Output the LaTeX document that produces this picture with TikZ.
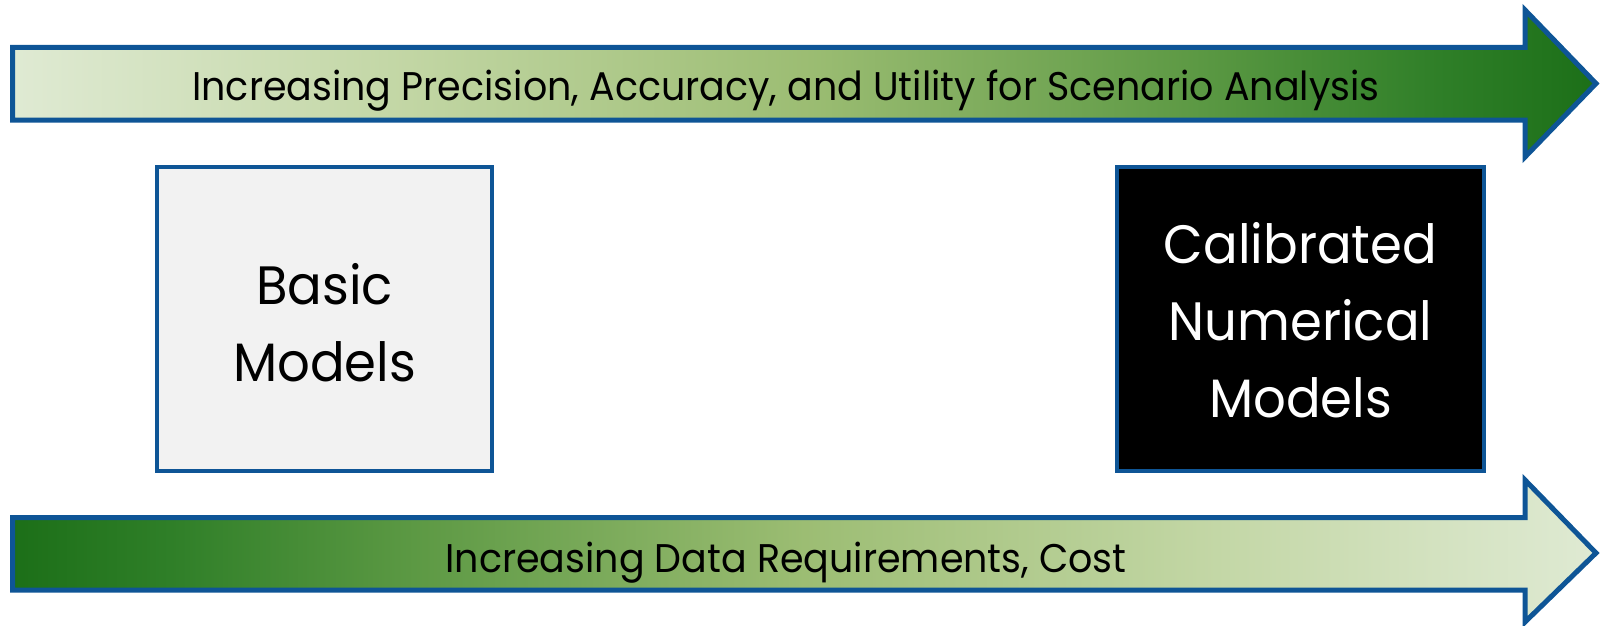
\documentclass[tikz,border=0pt]{standalone}
\usepackage{fontspec}
\setmainfont[FakeStretch=0.95]{Poppins}
\definecolor{edgeblue}{HTML}{0E5596}
\definecolor{boxgray}{HTML}{F2F2F2}
\definecolor{gA}{HTML}{DFEAD3}
\definecolor{gB}{HTML}{C2D6A4}
\definecolor{gC}{HTML}{9CBD73}
\definecolor{gD}{HTML}{5E9A45}
\definecolor{gE}{HTML}{2F7F28}
\definecolor{gF}{HTML}{1C6F18}
% light-to-dark green ramp (path spans 25bp..75bp of the shading)
\pgfdeclarehorizontalshading{rampup}{100bp}{%
  color(0bp)=(gA); color(25bp)=(gA); color(37.5bp)=(gB); color(50bp)=(gC);
  color(62bp)=(gD); color(70bp)=(gE); color(75bp)=(gF); color(100bp)=(gF)}
% dark-to-light green ramp
\pgfdeclarehorizontalshading{rampdown}{100bp}{%
  color(0bp)=(gF); color(25bp)=(gF); color(30bp)=(gE); color(38bp)=(gD);
  color(50bp)=(gC); color(62.5bp)=(gB); color(75bp)=(gA); color(100bp)=(gA)}
\begin{document}
\begin{tikzpicture}[x=1pt,y=-1pt,
  bigarrow/.style={draw=edgeblue,line width=5pt,line join=miter},
  arrowtext/.style={font=\fontsize{40}{48}\selectfont,text=black,inner sep=0pt},
  modelbox/.style={draw=edgeblue,line width=4.5pt,minimum width=335pt,minimum height=304pt,
    inner sep=0pt},
  boxtext/.style={align=center,font=\fontsize{54}{77}\selectfont,inner sep=0pt}]
\useasboundingbox (0,0) rectangle (1601,626);
% upper arrow
\shade[shading=rampup] (12.5,47.5) -- (1525,47.5) -- (1525,10) -- (1596,83.5)
  -- (1525,157) -- (1525,120) -- (12.5,120) -- cycle;
\draw[bigarrow] (12.5,47.5) -- (1525,47.5) -- (1525,10) -- (1596,83.5)
  -- (1525,157) -- (1525,120) -- (12.5,120) -- cycle;
\node[arrowtext,anchor=base] (toplabel) at (786,100)
  {Increasing Precision, Accuracy, and Utility for Scenario Analysis};
% lower arrow
\shade[shading=rampdown] (12.5,517.5) -- (1525,517.5) -- (1525,480) -- (1596,553)
  -- (1525,622) -- (1525,590) -- (12.5,590) -- cycle;
\draw[bigarrow] (12.5,517.5) -- (1525,517.5) -- (1525,480) -- (1596,553)
  -- (1525,622) -- (1525,590) -- (12.5,590) -- cycle;
\node[arrowtext,anchor=base] (bottomlabel) at (786,572)
  {Increasing Data Requirements, Cost};
% model boxes
\node[modelbox,fill=boxgray] (basic) at (324.5,319) {};
\node[boxtext,text=black] (basictext) at (324.5,323) {Basic\\Models};
\node[modelbox,minimum width=367pt,fill=black] (calibrated) at (1300.5,319) {};
\node[boxtext,text=white] (calibratedtext) at (1300.5,320)
  {Calibrated\\Numerical\\Models};
\end{tikzpicture}
\end{document}
